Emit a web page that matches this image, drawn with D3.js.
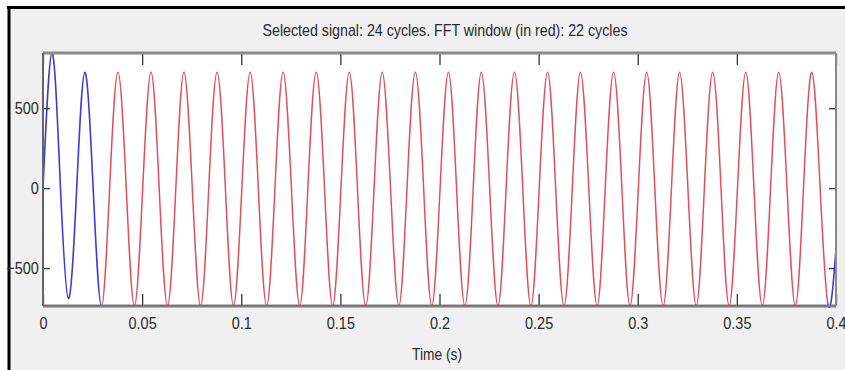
<!DOCTYPE html>
<html>
<head>
<meta charset="utf-8">
<script src="https://cdn.jsdelivr.net/npm/d3@7"></script>
<style>
  html, body { margin: 0; padding: 0; background: #ffffff; }
  svg { display: block; }
  text { font-family: "Liberation Sans", Arial, Helvetica, sans-serif; fill: #2a2a2a; }
</style>
</head>
<body>
<svg id="chart" width="845" height="370"></svg>
<script>
// ---- Data ----
const titleText = "Selected signal: 24 cycles. FFT window (in red): 22 cycles";
const xLabel = "Time (s)";
const xTicks = [0, 0.05, 0.1, 0.15, 0.2, 0.25, 0.3, 0.35, 0.4];
const xTickLabels = ["0", "0.05", "0.1", "0.15", "0.2", "0.25", "0.3", "0.35", "0.4"];
const yTicks = [-500, 0, 500];
const xDomain = [0, 0.4];
const yDomain = [-737, 845];
const fftWindow = [0.0295, 0.3961];   // red part (22 cycles)

// signal samples (time in s)
const sigTime = [
  0.0000, 0.0045, 0.0086, 0.0128, 0.0170, 0.0211, 0.0253, 0.0295,
  0.0336, 0.0378, 0.0420, 0.0461, 0.0503, 0.0545, 0.0586, 0.0628,
  0.0670, 0.0711, 0.0753, 0.0795, 0.0836, 0.0878, 0.0920, 0.0961,
  0.1003, 0.1045, 0.1086, 0.1128, 0.1170, 0.1211, 0.1253, 0.1295,
  0.1336, 0.1378, 0.1420, 0.1461, 0.1503, 0.1545, 0.1586, 0.1628,
  0.1670, 0.1711, 0.1753, 0.1795, 0.1836, 0.1878, 0.1920, 0.1961,
  0.2003, 0.2045, 0.2086, 0.2128, 0.2170, 0.2211, 0.2253, 0.2295,
  0.2336, 0.2378, 0.2420, 0.2461, 0.2503, 0.2545, 0.2586, 0.2628,
  0.2670, 0.2711, 0.2753, 0.2795, 0.2836, 0.2878, 0.2920, 0.2961,
  0.3003, 0.3045, 0.3086, 0.3128, 0.3170, 0.3211, 0.3253, 0.3295,
  0.3336, 0.3378, 0.3420, 0.3461, 0.3503, 0.3545, 0.3586, 0.3628,
  0.3670, 0.3711, 0.3753, 0.3795, 0.3836, 0.3878, 0.3920, 0.3961,
  0.4000
];
// signal values
const sigValue = [
  0, 845, 60, -690, 0, 725, 0, -737,
  0, 725, 0, -737, 0, 725, 0, -737,
  0, 725, 0, -737, 0, 725, 0, -737,
  0, 725, 0, -737, 0, 725, 0, -737,
  0, 725, 0, -737, 0, 725, 0, -737,
  0, 725, 0, -737, 0, 725, 0, -737,
  0, 725, 0, -737, 0, 725, 0, -737,
  0, 725, 0, -737, 0, 725, 0, -737,
  0, 725, 0, -737, 0, 725, 0, -737,
  0, 725, 0, -737, 0, 725, 0, -737,
  0, 725, 0, -737, 0, 725, 0, -737,
  0, 725, 0, -737, 0, 725, 0, -737,
  -380
];

// ---- Layout ----
const svg = d3.select("#chart");
const W = 845, H = 370;
const plot = { left: 43, right: 836, top: 53, bottom: 306 };

// figure background + black frame (top/left)
svg.append("rect").attr("x", 9).attr("y", 7).attr("width", W - 9).attr("height", H - 7).attr("fill", "#f0f0f0");
svg.append("line").attr("x1", 7).attr("x2", W).attr("y1", 7.5).attr("y2", 7.5).attr("stroke", "#000").attr("stroke-width", 3);
svg.append("line").attr("x1", 9).attr("x2", 9).attr("y1", 6).attr("y2", H).attr("stroke", "#000").attr("stroke-width", 3);

// plot area
svg.append("rect").attr("x", plot.left).attr("y", plot.top)
  .attr("width", plot.right - plot.left).attr("height", plot.bottom - plot.top).attr("fill", "#ffffff");

const x = d3.scaleLinear().domain(xDomain).range([plot.left, plot.right]);
const y = d3.scaleLinear().domain(yDomain).range([plot.bottom, plot.top]);

const pts = sigTime.map((t, i) => [t, sigValue[i]]);
const line = d3.line().x(d => x(d[0])).y(d => y(d[1])).curve(d3.curveNatural);

const defs = svg.append("defs");
defs.append("clipPath").attr("id", "clipRed").append("rect")
  .attr("x", x(fftWindow[0])).attr("y", 0).attr("width", x(fftWindow[1]) - x(fftWindow[0])).attr("height", H);
const cb = defs.append("clipPath").attr("id", "clipBlue");
cb.append("rect").attr("x", 0).attr("y", 0).attr("width", x(fftWindow[0])).attr("height", H);
cb.append("rect").attr("x", x(fftWindow[1])).attr("y", 0).attr("width", W - x(fftWindow[1])).attr("height", H);
defs.append("clipPath").attr("id", "clipPlot").append("rect")
  .attr("x", plot.left).attr("y", plot.top - 2).attr("width", plot.right - plot.left + 1).attr("height", plot.bottom - plot.top + 4);

const gLines = svg.append("g").attr("clip-path", "url(#clipPlot)");
gLines.append("path").datum(pts).attr("d", line).attr("fill", "none")
  .attr("stroke", "#e0505c").attr("stroke-width", 1.5).attr("clip-path", "url(#clipRed)");
gLines.append("path").datum(pts).attr("d", line).attr("fill", "none")
  .attr("stroke", "#3b3bd6").attr("stroke-width", 1.6).attr("clip-path", "url(#clipBlue)");

// axes (inward ticks)
const tickColor = "#333";
const gBottom = svg.append("g").attr("transform", `translate(0,${plot.bottom})`)
  .call(d3.axisBottom(x).tickValues(xTicks).tickFormat((d, i) => xTickLabels[i])
    .tickSizeInner(-12).tickSizeOuter(0).tickPadding(11));
const gTop = svg.append("g").attr("transform", `translate(0,${plot.top})`)
  .call(d3.axisTop(x).tickValues(xTicks).tickFormat("").tickSizeInner(-12).tickSizeOuter(0));
const gLeft = svg.append("g").attr("transform", `translate(${plot.left},0)`)
  .call(d3.axisLeft(y).tickValues(yTicks).tickFormat(d3.format("d")).tickSizeInner(-7).tickSizeOuter(0).tickPadding(5));
const gRight = svg.append("g").attr("transform", `translate(${plot.right},0)`)
  .call(d3.axisRight(y).tickValues(yTicks).tickFormat("").tickSizeInner(-7).tickSizeOuter(0));

[gBottom, gTop, gLeft, gRight].forEach(g => {
  g.select(".domain").remove();
  g.selectAll(".tick line").attr("stroke", tickColor).attr("stroke-width", 1.3);
  g.selectAll("text").attr("font-size", 17).attr("fill", "#2a2a2a")
    .attr("font-family", "'Liberation Sans', Arial, sans-serif");
});
gBottom.selectAll("text").attr("transform", "scale(0.85,1)");
gLeft.selectAll("text").attr("transform", "scale(0.85,1)");

// axis box
svg.append("line").attr("x1", plot.left).attr("x2", plot.right).attr("y1", plot.top).attr("y2", plot.top)
  .attr("stroke", "#8a8a8a").attr("stroke-width", 3);
svg.append("line").attr("x1", plot.left).attr("x2", plot.right).attr("y1", plot.bottom).attr("y2", plot.bottom)
  .attr("stroke", "#7a7a7a").attr("stroke-width", 3);
svg.append("line").attr("x1", plot.left).attr("x2", plot.left).attr("y1", plot.top).attr("y2", plot.bottom)
  .attr("stroke", "#666").attr("stroke-width", 2);
svg.append("line").attr("x1", plot.right).attr("x2", plot.right).attr("y1", plot.top).attr("y2", plot.bottom)
  .attr("stroke", "#8a8a8a").attr("stroke-width", 2);

// title
svg.append("text").attr("x", 445).attr("y", 36).attr("text-anchor", "middle")
  .attr("font-size", 17).attr("textLength", 365).attr("lengthAdjust", "spacingAndGlyphs")
  .text(titleText);

// x label
svg.append("text").attr("x", 437).attr("y", 360).attr("text-anchor", "middle")
  .attr("font-size", 17).attr("textLength", 50).attr("lengthAdjust", "spacingAndGlyphs")
  .text(xLabel);
</script>
</body>
</html>
